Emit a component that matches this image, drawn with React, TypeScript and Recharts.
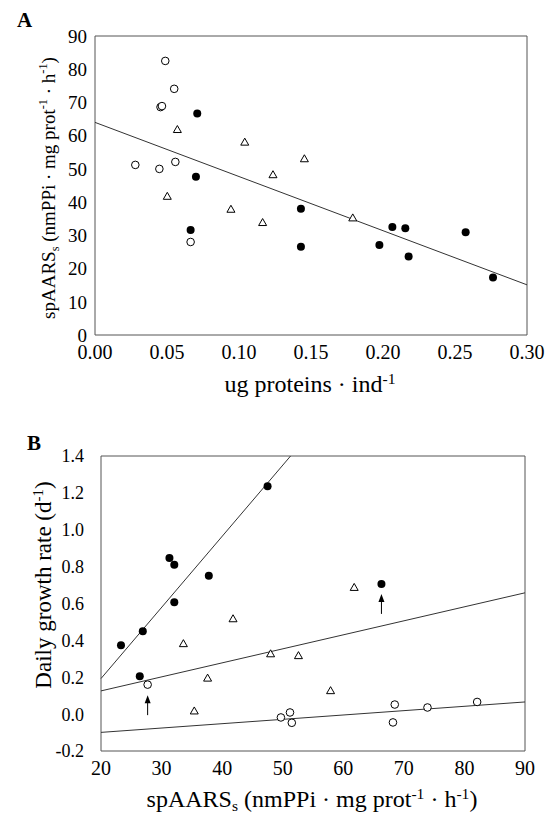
import React from "react";
import {
  ScatterChart,
  Scatter,
  XAxis,
  YAxis,
  ReferenceLine,
  ReferenceArea,
} from "recharts";

// Panel A: spAARS vs ug proteins per individual
const aOpenX = [0.0488, 0.055, 0.0455, 0.0465, 0.028, 0.0447, 0.0558, 0.0664];
const aOpenY = [82.5, 74.1, 68.6, 68.9, 51.2, 50, 52.1, 28];
const aFilledX = [0.071, 0.0701, 0.0664, 0.143, 0.143, 0.1975, 0.2065, 0.2155, 0.2178, 0.2574, 0.2764];
const aFilledY = [66.7, 47.6, 31.6, 38, 26.6, 27.1, 32.5, 32.1, 23.6, 30.9, 17.3];
const aTriX = [0.0572, 0.104, 0.1454, 0.1236, 0.0502, 0.0944, 0.1164, 0.179];
const aTriY = [62, 58.2, 53.2, 48.4, 41.9, 38, 34, 35.4];
const aFit = [
  { x: 0, y: 64 },
  { x: 0.3, y: 15.1 },
];
const aXTicks = [0, 0.05, 0.1, 0.15, 0.2, 0.25, 0.3];
const aYTicks = [0, 10, 20, 30, 40, 50, 60, 70, 80, 90];

// Panel B: daily growth rate vs spAARS
const bFilledX = [23.3, 26.4, 26.9, 31.3, 32.1, 32.1, 37.8, 47.5, 66.3];
const bFilledY = [0.373, 0.205, 0.45, 0.847, 0.81, 0.607, 0.75, 1.236, 0.706];
const bOpenX = [27.7, 49.7, 51.2, 51.5, 68.5, 68.2, 73.9, 82.1];
const bOpenY = [0.16, -0.018, 0.009, -0.047, 0.052, -0.045, 0.036, 0.066];
const bTriX = [33.6, 35.4, 37.6, 41.8, 48.0, 52.6, 57.9, 61.8];
const bTriY = [0.385, 0.02, 0.198, 0.52, 0.33, 0.32, 0.13, 0.69];
const bFitFilled = [
  { x: 20, y: 0.193 },
  { x: 51.3, y: 1.4 },
];
const bFitTri = [
  { x: 20, y: 0.126 },
  { x: 90, y: 0.658 },
];
const bFitOpen = [
  { x: 20, y: -0.099 },
  { x: 90, y: 0.066 },
];
const bArrowX = [27.7, 66.3];
const bArrowY = [0.103, 0.652];
const bXTicks = [20, 30, 40, 50, 60, 70, 80, 90];
const bYTicks = [-0.2, 0, 0.2, 0.4, 0.6, 0.8, 1.0, 1.2, 1.4];

const zip = (xs: number[], ys: number[]) => xs.map((x, i) => ({ x, y: ys[i] }));

const FONT = "Liberation Serif";
const FRAME = "#555";
const LINE = "#333";

const OpenCircle = (p: any) => (
  <circle cx={p.cx} cy={p.cy} r={3.8} fill="#fff" stroke="#000" strokeWidth={1} />
);
const FilledCircle = (p: any) => <circle cx={p.cx} cy={p.cy} r={4} fill="#000" />;
const Triangle = (p: any) => (
  <polygon
    points={`${p.cx - 4},${p.cy + 3.5} ${p.cx + 4},${p.cy + 3.5} ${p.cx},${p.cy - 3.5}`}
    fill="#fff"
    stroke="#000"
    strokeWidth={1}
  />
);
const Arrow = (p: any) => (
  <g>
    <line x1={p.cx} y1={p.cy + 4} x2={p.cx} y2={p.cy + 20} stroke="#000" strokeWidth={1} />
    <polygon points={`${p.cx},${p.cy} ${p.cx - 3},${p.cy + 8} ${p.cx + 3},${p.cy + 8}`} fill="#000" />
  </g>
);

// spAARS_s (nmPPi · mg prot^-1 · h^-1) as tspans
const SpaarsTitle = () => (
  <>
    <tspan>spAARS</tspan>
    <tspan dy={4} fontSize="0.65em">s</tspan>
    <tspan dy={-4}> (nmPPi · mg prot</tspan>
    <tspan dy={-8} fontSize="0.65em">-1</tspan>
    <tspan dy={8}> · h</tspan>
    <tspan dy={-8} fontSize="0.65em">-1</tspan>
    <tspan dy={8}>)</tspan>
  </>
);

export default function App() {
  const tickA = { fontFamily: FONT, fontSize: 19, fill: "#000" };
  const tickAX = { fontFamily: FONT, fontSize: 20, fill: "#000" };
  const tickBY = { fontFamily: FONT, fontSize: 18, fill: "#000" };
  const tickBX = { fontFamily: FONT, fontSize: 20, fill: "#000" };

  return (
    <div
      style={{
        position: "absolute",
        left: 0,
        top: 0,
        width: 547,
        height: 816,
        background: "#fff",
        fontFamily: FONT,
      }}
    >
      <div style={{ position: "absolute", left: 0, top: 0 }}>
        <ScatterChart width={547} height={410} margin={{ top: 36, right: 20, left: 35, bottom: 15 }}>
          <XAxis
            type="number"
            dataKey="x"
            domain={[0, 0.3]}
            ticks={aXTicks}
            tickFormatter={(v: number) => v.toFixed(2)}
            tick={tickAX}
            tickLine={false}
            axisLine={false}
            tickMargin={4}
            height={60}
            interval={0}
            allowDataOverflow
          />
          <YAxis
            type="number"
            dataKey="y"
            domain={[0, 90]}
            ticks={aYTicks}
            tick={tickA}
            tickLine={false}
            axisLine={false}
            width={60}
            interval={0}
            allowDataOverflow
          />
          <ReferenceArea x1={0} x2={0.3} y1={0} y2={90} fill="none" stroke={FRAME} strokeWidth={1} />
          <ReferenceLine segment={aFit} stroke={LINE} strokeWidth={1} />
          <Scatter data={zip(aOpenX, aOpenY)} shape={OpenCircle} isAnimationActive={false} />
          <Scatter data={zip(aFilledX, aFilledY)} shape={FilledCircle} isAnimationActive={false} />
          <Scatter data={zip(aTriX, aTriY)} shape={Triangle} isAnimationActive={false} />
        </ScatterChart>
      </div>
      <div style={{ position: "absolute", left: 0, top: 410 }}>
        <ScatterChart width={547} height={406} margin={{ top: 46, right: 22, left: 41, bottom: 10 }}>
          <XAxis
            type="number"
            dataKey="x"
            domain={[20, 90]}
            ticks={bXTicks}
            tick={tickBX}
            tickLine={false}
            axisLine={false}
            tickMargin={4}
            height={55}
            interval={0}
            allowDataOverflow
          />
          <YAxis
            type="number"
            dataKey="y"
            domain={[-0.2, 1.4]}
            ticks={bYTicks}
            tickFormatter={(v: number) => v.toFixed(1)}
            tick={tickBY}
            tickLine={false}
            axisLine={false}
            tickMargin={11}
            width={60}
            interval={0}
            allowDataOverflow
          />
          <ReferenceArea x1={20} x2={90} y1={-0.2} y2={1.4} fill="none" stroke={FRAME} strokeWidth={1} />
          <ReferenceLine segment={bFitFilled} stroke={LINE} strokeWidth={1} />
          <ReferenceLine segment={bFitTri} stroke={LINE} strokeWidth={1} />
          <ReferenceLine segment={bFitOpen} stroke={LINE} strokeWidth={1} />
          <Scatter data={zip(bOpenX, bOpenY)} shape={OpenCircle} isAnimationActive={false} />
          <Scatter data={zip(bFilledX, bFilledY)} shape={FilledCircle} isAnimationActive={false} />
          <Scatter data={zip(bTriX, bTriY)} shape={Triangle} isAnimationActive={false} />
          <Scatter data={zip(bArrowX, bArrowY)} shape={Arrow} isAnimationActive={false} />
        </ScatterChart>
      </div>
      <svg
        width={547}
        height={816}
        style={{ position: "absolute", left: 0, top: 0, pointerEvents: "none", fontFamily: FONT }}
      >
        <text x={17} y={27} fontSize={21} fontWeight="bold" fontFamily={FONT}>A</text>
        <text x={27} y={450} fontSize={21} fontWeight="bold" fontFamily={FONT}>B</text>

        <text x={310} y={392} fontSize={24} textAnchor="middle" fontFamily={FONT}>
          <tspan>ug proteins · ind</tspan>
          <tspan dy={-8} fontSize="0.65em">-1</tspan>
        </text>
        <text transform="translate(55,188) rotate(-90)" fontSize={19} textAnchor="middle" fontFamily={FONT}>
          <SpaarsTitle />
        </text>

        <text transform="translate(51,585) rotate(-90)" fontSize={23} textAnchor="middle" fontFamily={FONT}>
          <tspan>Daily growth rate (d</tspan>
          <tspan dy={-8} fontSize="0.65em">-1</tspan>
          <tspan dy={8}>)</tspan>
        </text>
        <text x={312} y={807} fontSize={24} textAnchor="middle" fontFamily={FONT}>
          <SpaarsTitle />
        </text>
      </svg>
    </div>
  );
}
